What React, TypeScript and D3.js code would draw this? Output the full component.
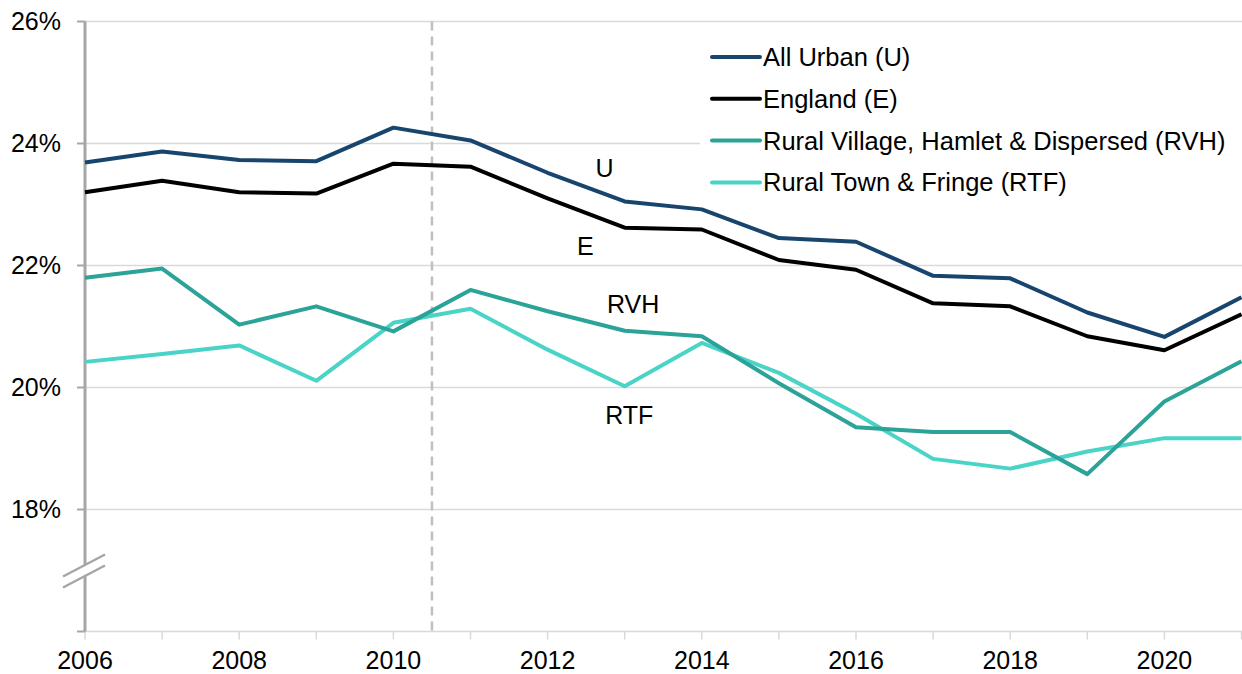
import React from "react";
import * as d3 from "d3";

// years on the x axis
const years = [2006, 2007, 2008, 2009, 2010, 2011, 2012, 2013, 2014, 2015, 2016, 2017, 2018, 2019, 2020, 2021];

// share of population, %
const urban = [23.69, 23.87, 23.73, 23.71, 24.26, 24.05, 23.52, 23.05, 22.92, 22.45, 22.39, 21.83, 21.79, 21.23, 20.83, 21.48];
const england = [23.2, 23.39, 23.2, 23.18, 23.67, 23.62, 23.1, 22.62, 22.59, 22.09, 21.93, 21.38, 21.33, 20.84, 20.61, 21.2];
const rvh = [21.8, 21.95, 21.03, 21.33, 20.92, 21.6, 21.25, 20.93, 20.84, 20.07, 19.35, 19.27, 19.27, 18.58, 19.77, 20.43];
const rtf = [20.42, 20.55, 20.69, 20.11, 21.06, 21.29, 20.62, 20.02, 20.73, 20.24, 19.57, 18.83, 18.67, 18.95, 19.17, 19.17];

const yTicks = [18, 20, 22, 24, 26];
const xTickLabels = [2006, 2008, 2010, 2012, 2014, 2016, 2018, 2020];

const series = [
  { name: "All Urban (U)", short: "U", values: urban, color: "#17456e", label: [2012.74, 23.59] },
  { name: "England (E)", short: "E", values: england, color: "#000000", label: [2012.49, 22.32] },
  { name: "Rural Village, Hamlet & Dispersed (RVH)", short: "RVH", values: rvh, color: "#2ba398", label: [2013.11, 21.36] },
  { name: "Rural Town & Fringe (RTF)", short: "RTF", values: rtf, color: "#4ad3c7", label: [2013.06, 19.55] },
];

const W = 1242;
const H = 674;
const font = "'Liberation Sans', Arial, sans-serif";

export default function App() {
  const x = d3.scaleLinear().domain([2006, 2021]).range([85, 1241.5]);
  const y = d3.scaleLinear().domain([16, 26]).range([631.5, 21.5]);

  const line = d3
    .line<number>()
    .x((d, i) => x(years[i]))
    .y((d) => y(d));

  const breakY = y(17);

  return (
    <svg
      width={W}
      height={H}
      style={{ position: "absolute", left: 0, top: 0, background: "#fff" }}
      fontFamily={font}
    >
      {/* gridlines */}
      {yTicks.map((t) => (
        <line key={t} x1={x(2006)} x2={W} y1={y(t)} y2={y(t)} stroke="#d9d9d9" strokeWidth={1.5} />
      ))}
      {/* bottom axis */}
      <line x1={x(2006)} x2={W} y1={y(16)} y2={y(16)} stroke="#d9d9d9" strokeWidth={1.5} />
      {years.map((yr) => (
        <line key={yr} x1={x(yr)} x2={x(yr)} y1={y(16)} y2={y(16) + 8} stroke="#d9d9d9" strokeWidth={1.5} />
      ))}
      {/* left axis */}
      <line x1={x(2006)} x2={x(2006)} y1={y(26)} y2={y(16)} stroke="#a6a6a6" strokeWidth={3} />
      {[16, ...yTicks].map((t) => (
        <line key={t} x1={x(2006) - 8} x2={x(2006)} y1={y(t)} y2={y(t)} stroke="#a6a6a6" strokeWidth={2} />
      ))}
      {/* axis break */}
      <polygon
        points={`63,${breakY + 6} 105,${breakY - 16} 105,${breakY - 6} 63,${breakY + 16}`}
        fill="#fff"
      />
      <line x1={63} y1={breakY + 6} x2={105} y2={breakY - 16} stroke="#a6a6a6" strokeWidth={2.5} />
      <line x1={63} y1={breakY + 17} x2={105} y2={breakY - 5} stroke="#a6a6a6" strokeWidth={2.5} />

      {/* 2010/11 marker */}
      <line
        x1={x(2010.5)}
        x2={x(2010.5)}
        y1={y(26)}
        y2={y(16)}
        stroke="#bfbfbf"
        strokeWidth={2.5}
        strokeDasharray="9,6"
      />

      {/* y labels */}
      {yTicks.map((t) => (
        <text key={t} x={61} y={y(t)} dy="0.35em" textAnchor="end" fontSize={25} fill="#000">
          {t}%
        </text>
      ))}
      {/* x labels */}
      {xTickLabels.map((t) => (
        <text key={t} x={x(t)} y={669} textAnchor="middle" fontSize={25} fill="#000">
          {t}
        </text>
      ))}

      {/* legend box */}
      <rect x={700} y={36} width={542} height={166} fill="#fff" />

      {/* series lines */}
      {[...series].reverse().map((s) => (
        <path key={s.short} d={line(s.values) ?? ""} fill="none" stroke={s.color} strokeWidth={4} strokeLinejoin="round" />
      ))}

      {/* line labels */}
      {series.map((s) => (
        <text
          key={s.short}
          x={x(s.label[0])}
          y={y(s.label[1])}
          dy="0.35em"
          textAnchor="middle"
          fontSize={25}
          fill="#000"
        >
          {s.short}
        </text>
      ))}

      {/* legend */}
      {series.map((s, i) => (
        <g key={s.name} transform={`translate(712, ${57 + i * 41.8})`}>
          <line x1={0} x2={48} y1={0} y2={0} stroke={s.color} strokeWidth={4} strokeLinecap="round" />
          <text x={51} y={0} dy="0.35em" fontSize={25.5} fill="#000">
            {s.name}
          </text>
        </g>
      ))}
    </svg>
  );
}
